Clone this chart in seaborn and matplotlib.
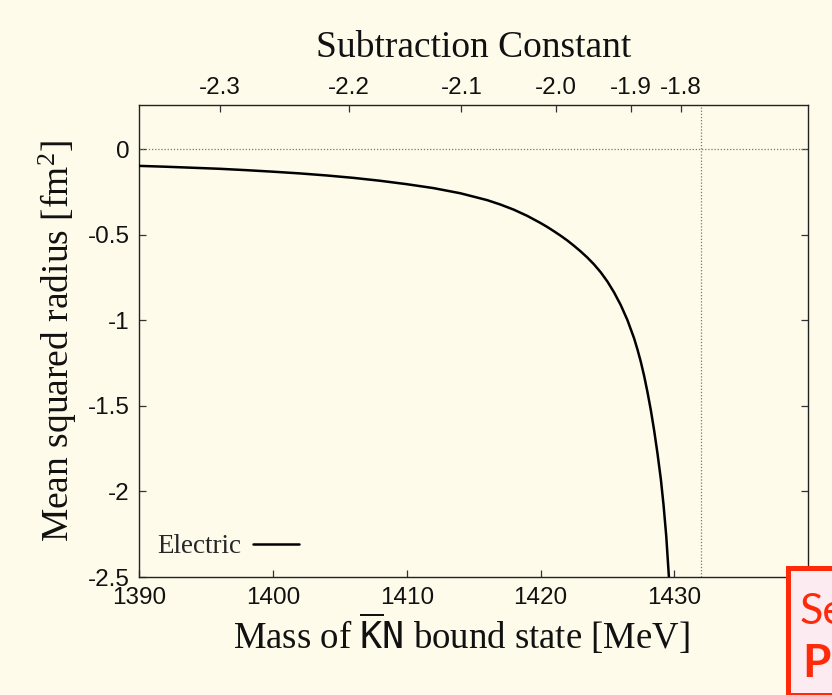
import numpy as np
import pandas as pd
import matplotlib
matplotlib.use("Agg")
import matplotlib.pyplot as plt
import seaborn as sns
from matplotlib.patches import Rectangle

# ---- data ----
mass = [1390, 1392, 1394, 1396, 1398, 1400, 1402, 1404, 1406, 1408, 1410,
        1412, 1414, 1416, 1417, 1418, 1419, 1420, 1420.5, 1421, 1421.5, 1422,
        1422.5, 1423, 1423.5, 1424, 1424.5, 1425, 1425.5, 1426, 1426.5, 1427,
        1427.25, 1427.5, 1427.75, 1428, 1428.25, 1428.5, 1428.75, 1429,
        1429.2, 1429.4, 1429.6]
msr = [-0.096, -0.101, -0.107, -0.113, -0.121, -0.130, -0.140, -0.152, -0.166,
       -0.183, -0.203, -0.226, -0.256, -0.296, -0.322, -0.352, -0.388, -0.430,
       -0.453, -0.478, -0.504, -0.532, -0.563, -0.596, -0.632, -0.672, -0.718,
       -0.772, -0.836, -0.910, -0.998, -1.105, -1.170, -1.242, -1.325, -1.420,
       -1.525, -1.645, -1.780, -1.930, -2.080, -2.260, -2.500]
series_name = "Electric"

top_tick_mass = [1396.03, 1405.67, 1414.09, 1421.14, 1426.73, 1430.49]
top_tick_labels = ["-2.3", "-2.2", "-2.1", "-2.0", "-1.9", "-1.8"]

x_ticks = [1390, 1400, 1410, 1420, 1430]
y_ticks = [0, -0.5, -1, -1.5, -2, -2.5]
y_tick_labels = ["0", "-0.5", "-1", "-1.5", "-2", "-2.5"]
threshold = 1432

df = pd.DataFrame({"mass": mass, "msr": msr, "series": series_name})

# ---- style ----
sns.set_theme(style="ticks")
bg = "#fefbea"
plt.rcParams.update({
    "font.family": ["Liberation Sans", "DejaVu Sans"],
    "mathtext.fontset": "custom",
    "mathtext.rm": "Liberation Serif",
    "mathtext.it": "Liberation Serif:italic",
    "mathtext.tt": "DejaVu Sans Mono",
    "axes.edgecolor": "#222222",
    "axes.linewidth": 1.0,
})

fig = plt.figure(figsize=(8.32, 6.95), dpi=100, facecolor=bg)
ax = fig.add_axes([139.3 / 832, 1 - 577 / 695, (808 - 139.3) / 832, (577 - 105) / 695])
ax.set_facecolor(bg)

ax.axhline(0, color="#777777", lw=0.9, ls=(0, (1, 1.5)), zorder=1)
ax.axvline(threshold, color="#777777", lw=0.9, ls=(0, (1, 1.5)), zorder=1)

sns.lineplot(data=df, x="mass", y="msr", hue="series", palette=["black"],
             lw=1.8, ax=ax, sort=False, zorder=3)

ax.set_xlim(1390, 1440)
ax.set_ylim(-2.5, 0.26)
ax.set_xticks(x_ticks)
ax.set_xticklabels([str(t) for t in x_ticks])
ax.set_yticks(y_ticks)
ax.set_yticklabels(y_tick_labels)
ax.tick_params(axis="both", direction="in", length=5, width=0.9, color="#333333",
               labelsize=17.5, labelcolor="#111111")
ax.tick_params(axis="y", right=True, pad=7)
ax.tick_params(axis="x", top=False, pad=7)

serif = ["Liberation Serif", "DejaVu Serif"]
ax.set_xlabel(r"Mass of $\overline{\mathtt{K}}\mathtt{N}$ bound state [MeV]",
              fontsize=26.5, family=serif, color="#111111", labelpad=2)
ax.xaxis.label.set_x(0.481)
ax.set_ylabel(r"Mean squared radius [fm$^2$]", fontsize=27, family=serif,
              color="#111111", labelpad=6.5)

leg = ax.legend(loc="lower left", frameon=False, markerfirst=False,
                handlelength=1.7, prop={"family": serif, "size": 19.5},
                bbox_to_anchor=(0.0, 0.0), borderaxespad=0.25,
                handletextpad=0.45)

# top axis: subtraction constant
ax2 = ax.twiny()
ax2.set_xlim(ax.get_xlim())
ax2.set_xticks(top_tick_mass)
ax2.set_xticklabels(top_tick_labels)
ax2.tick_params(axis="x", direction="in", length=5, width=0.9, color="#333333",
                labelsize=17.5, labelcolor="#111111", pad=4)
ax2.set_xlabel("Subtraction Constant", fontsize=27, family=serif,
               color="#111111", labelpad=15)
for s in ax2.spines.values():
    s.set_visible(False)

# overlay box at bottom right (cut off in reference)
box = Rectangle((788 / 832, 0), 0.2, 1 - 568 / 695, transform=fig.transFigure,
                facecolor="#fcecf2", edgecolor="#ff2a0a", lw=3.6, zorder=10)
fig.add_artist(box)
fig.text(800 / 832, 1 - 624 / 695, "Se", color="#ff2a0a", fontsize=31,
         family=["Lato", "DejaVu Sans"], zorder=11)
fig.text(802 / 832, 1 - 677 / 695, "P", color="#ff2a0a", fontsize=33,
         fontweight="bold", family=["Lato", "DejaVu Sans"], zorder=11)

fig.savefig("out.png", dpi=100, facecolor=bg)
